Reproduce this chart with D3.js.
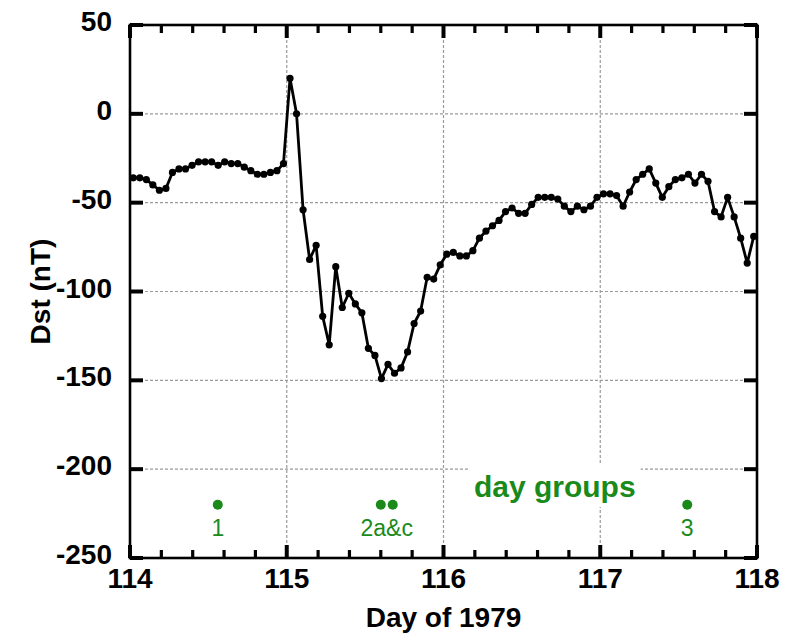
<!DOCTYPE html>
<html>
<head>
<meta charset="utf-8">
<script src="https://cdn.jsdelivr.net/npm/d3@7/dist/d3.min.js"></script>
<style>
  html, body { margin: 0; padding: 0; background: #fff; }
  svg { display: block; font-family: "Liberation Sans", Arial, sans-serif; }
</style>
</head>
<body>
<svg id="chart" width="788" height="634"></svg>
<script>
// Hourly Dst index (nT), days 114-117 of 1979, one value per hour
const dst114 = [-36,-36,-37,-40,-43,-42,-33,-31,-31,-29,-27,-27,-27,-29,-27,-28,-28,-30,-32,-34,-34,-33,-32,-28];
const dst115 = [20,0,-54,-82,-74,-114,-130,-86,-109,-101,-107,-112,-132,-136,-149,-141,-146,-143,-134,-118,-111,-92,-93,-85];
const dst116 = [-79,-78,-80,-80,-77,-70,-66,-63,-60,-55,-53,-56,-56,-51,-47,-47,-47,-48,-52,-55,-52,-54,-52,-47];
const dst117 = [-45,-45,-46,-52,-44,-37,-34,-31,-39,-47,-41,-37,-36,-34,-39,-34,-38,-55,-58,-47,-58,-70,-84,-69];
const days = [114, 115, 116, 117];
const dstByDay = [dst114, dst115, dst116, dst117];

// Day-group markers
const groupDays = [114.56, 115.60, 115.676, 117.555];
const groupLevel = -220;
const groupLabels = [
  { text: "1", day: 114.56 },
  { text: "2a&c", day: 115.638 },
  { text: "3", day: 117.555 }
];

// Axis ticks
const xTicks = [114, 115, 116, 117, 118];
const xMinorTicks = [114.2, 114.4, 114.6, 114.8, 115.2, 115.4, 115.6, 115.8,
                     116.2, 116.4, 116.6, 116.8, 117.2, 117.4, 117.6, 117.8];
const yTicks = [50, 0, -50, -100, -150, -200, -250];

const series = [];
days.forEach((d, i) => {
  dstByDay[i].forEach((v, h) => series.push({ t: d + (h + 0.5) / 24, v }));
});

const svg = d3.select("#chart");
const x = d3.scaleLinear().domain([114, 118]).range([130, 757]);
const y = d3.scaleLinear().domain([-250, 50]).range([558, 25]);
const [x0, x1] = x.range();
const [y0, y1] = y.range();
const green = "#1a8a1a";
const label = d => String(d);   // plain hyphen-minus for negatives

// Grid
const grid = svg.append("g").attr("stroke", "#9a9a9a").attr("stroke-width", 1.2)
  .attr("stroke-dasharray", "3,2");
grid.selectAll(".gx").data(xTicks.slice(1, -1)).join("line")
  .attr("x1", d => x(d)).attr("x2", d => x(d)).attr("y1", y1).attr("y2", y0);
grid.selectAll(".gy").data(yTicks.slice(1, -1)).join("line")
  .attr("x1", x0).attr("x2", x1).attr("y1", d => y(d)).attr("y2", d => y(d));

// "day groups" caption with a white backing over the grid
const capX = (x(116.18) + x(117.24)) / 2;
const cap = svg.append("g");
const capText = cap.append("text")
  .attr("x", capX).attr("y", 497)
  .attr("text-anchor", "middle")
  .attr("font-size", 30).attr("font-weight", "bold")
  .attr("fill", green).text("day groups");
const bb = capText.node().getBBox();
cap.insert("rect", "text")
  .attr("x", bb.x - 5).attr("y", y(-200) - 6)
  .attr("width", bb.width + 10).attr("height", bb.y + bb.height - y(-200) + 10)
  .attr("fill", "#fff");

// Group markers and labels
svg.append("g").selectAll("circle").data(groupDays).join("circle")
  .attr("cx", d => x(d)).attr("cy", y(groupLevel)).attr("r", 5).attr("fill", green);
svg.append("g").selectAll("text").data(groupLabels).join("text")
  .attr("x", d => x(d.day)).attr("y", 536)
  .attr("text-anchor", "middle").attr("font-size", 23).attr("fill", green)
  .text(d => d.text);

// Dst curve
const line = d3.line().x(d => x(d.t)).y(d => y(d.v));
svg.append("path").datum(series)
  .attr("d", line).attr("fill", "none").attr("stroke", "#000")
  .attr("stroke-width", 2.8).attr("stroke-linejoin", "round");
svg.append("g").selectAll("circle").data(series).join("circle")
  .attr("cx", d => x(d.t)).attr("cy", d => y(d.v)).attr("r", 3.6).attr("fill", "#000");

// Frame
svg.append("rect").attr("x", x0).attr("y", y1).attr("width", x1 - x0).attr("height", y0 - y1)
  .attr("fill", "none").attr("stroke", "#000").attr("stroke-width", 2.6);

// Inward ticks on all four sides
const majorLen = 13, minorLen = 8;
const ticks = svg.append("g").attr("stroke", "#000");
ticks.selectAll(".xmb").data(xTicks).join("line").attr("stroke-width", 4)
  .attr("x1", d => x(d)).attr("x2", d => x(d)).attr("y1", y0).attr("y2", y0 - majorLen);
ticks.selectAll(".xmt").data(xTicks).join("line").attr("stroke-width", 4)
  .attr("x1", d => x(d)).attr("x2", d => x(d)).attr("y1", y1).attr("y2", y1 + majorLen);
ticks.selectAll(".xnb").data(xMinorTicks).join("line").attr("stroke-width", 3.2)
  .attr("x1", d => x(d)).attr("x2", d => x(d)).attr("y1", y0).attr("y2", y0 - minorLen);
ticks.selectAll(".xnt").data(xMinorTicks).join("line").attr("stroke-width", 3.2)
  .attr("x1", d => x(d)).attr("x2", d => x(d)).attr("y1", y1).attr("y2", y1 + minorLen);
ticks.selectAll(".yml").data(yTicks).join("line").attr("stroke-width", 4)
  .attr("x1", x0).attr("x2", x0 + majorLen).attr("y1", d => y(d)).attr("y2", d => y(d));
ticks.selectAll(".ymr").data(yTicks).join("line").attr("stroke-width", 4)
  .attr("x1", x1).attr("x2", x1 - majorLen).attr("y1", d => y(d)).attr("y2", d => y(d));

// Tick labels
svg.append("g").selectAll("text").data(xTicks).join("text")
  .attr("x", d => x(d)).attr("y", 588)
  .attr("text-anchor", "middle").attr("font-size", 28).attr("font-weight", "bold")
  .text(label);
svg.append("g").selectAll("text").data(yTicks).join("text")
  .attr("x", 112).attr("y", d => y(d) + 6)
  .attr("text-anchor", "end").attr("font-size", 28).attr("font-weight", "bold")
  .text(label);

// Axis titles
svg.append("text").attr("x", (x0 + x1) / 2).attr("y", 627)
  .attr("text-anchor", "middle").attr("font-size", 28).attr("font-weight", "bold")
  .text("Day of 1979");
svg.append("text").attr("transform", `translate(50,${(y0 + y1) / 2}) rotate(-90)`)
  .attr("text-anchor", "middle").attr("font-size", 28).attr("font-weight", "bold")
  .text("Dst (nT)");
</script>
</body>
</html>
